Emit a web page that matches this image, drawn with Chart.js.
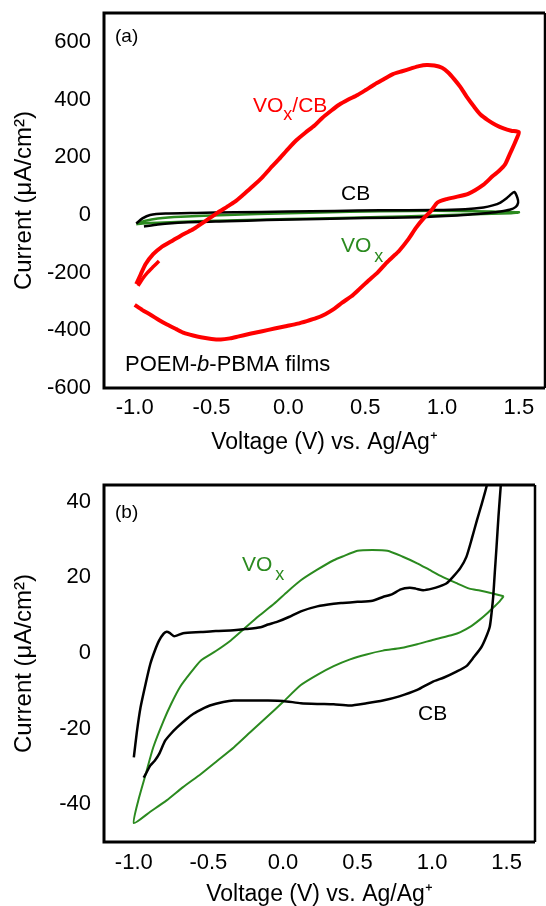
<!DOCTYPE html>
<html>
<head>
<meta charset="utf-8">
<script src="https://cdn.jsdelivr.net/npm/chart.js@4.4.0/dist/chart.umd.min.js"></script>
<style>
body{margin:0;background:#fff;}
canvas{position:absolute;left:0;}
#chartA{top:0;}
#chartB{top:460px;}
</style>
</head>
<body>
<canvas id="chartA" width="546" height="460"></canvas>
<canvas id="chartB" width="546" height="446"></canvas>
<script>
// tick labels
var xTicks = [-1.0, -0.5, 0.0, 0.5, 1.0, 1.5];
var yTicksA = [-600, -400, -200, 0, 200, 400, 600];
var yTicksB = [-40, -20, 0, 20, 40];

// (a) VOx/CB, main loop (lower sweep to the right, then upper sweep back)
var redX = [-1.0,-0.95,-0.90,-0.84,-0.79,-0.73,-0.68,-0.62,-0.57,-0.50,-0.44,-0.38,-0.33,-0.25,-0.17,-0.09,-0.01,0.06,0.12,0.18,0.24,0.30,0.35,0.41,0.46,0.52,0.58,0.64,0.68,0.72,0.78,0.83,0.88,0.93,0.97,1.03,1.08,1.17,1.27,1.33,1.37,1.41,1.44,1.47,1.49,1.50,
  1.45,1.40,1.35,1.30,1.25,1.21,1.16,1.12,1.08,1.04,1.00,0.95,0.90,0.85,0.80,0.74,0.68,0.62,0.56,0.50,0.45,0.39,0.33,0.28,0.22,0.17,0.11,0.05,0.00,-0.06,-0.12,-0.17,-0.23,-0.29,-0.35,-0.40,-0.46,-0.52,-0.57,-0.62,-0.68,-0.75,-0.83,-0.88,-0.93,-0.96,-0.99];
var redY = [-312,-330,-345,-365,-380,-396,-409,-418,-424,-430,-432,-428,-422,-412,-403,-394,-385,-377,-368,-358,-344,-325,-304,-282,-258,-228,-200,-165,-145,-125,-85,-45,-12,15,43,55,61,73,105,135,152,175,210,245,270,287,
  292,300,312,328,348,374,410,443,470,494,510,518,520,516,508,498,488,470,452,432,416,400,382,362,336,310,285,258,230,194,160,130,100,72,45,28,8,-14,-32,-50,-66,-88,-113,-136,-171,-205,-240];
// (a) VOx/CB, short first sweep
var redStartX = [-0.978,-0.95,-0.917,-0.88,-0.842];
var redStartY = [-246,-222,-200,-180,-160];
// (a) CB
var cbAX = [-0.99,-0.95,-0.90,-0.80,-0.60,-0.35,0.00,0.30,0.60,0.95,1.15,1.27,1.33,1.38,1.42,1.45,1.47,1.49,1.495,1.48,1.44,1.38,1.30,1.20,1.10,0.85,0.50,0.20,-0.14,-0.40,-0.68,-0.85,-0.94];
var cbAY = [-30,-12,0,5,7,9,12,14,16,17,20,26,33,43,58,72,80,60,42,28,18,12,7,2,-2,-8,-11,-14,-18,-22,-26,-33,-40];
// (a) VOx
var vxAX = [-0.99,-0.93,-0.85,-0.70,-0.40,0.00,0.40,0.80,1.10,1.30,1.50,1.45,1.20,0.90,0.60,0.20,-0.20,-0.60,-0.85,-0.95,-0.99];
var vxAY = [-32,-20,-12,-6,0,6,11,14,14,12,9,6,2,-3,-7,-12,-17,-22,-27,-30,-32];

// (b) VOx loop
var vxBX = [1.48,1.40,1.32,1.25,1.16,1.07,0.98,0.90,0.80,0.70,0.60,0.50,0.40,0.34,0.23,0.12,0.03,-0.06,-0.16,-0.26,-0.35,-0.45,-0.55,-0.62,-0.69,-0.75,-0.80,-0.87,-0.92,-0.97,-1.00,
  -0.89,-0.78,-0.67,-0.55,-0.44,-0.33,-0.22,-0.11,0.00,0.12,0.23,0.34,0.45,0.56,0.67,0.79,0.90,1.01,1.14,1.19,1.26,1.32,1.37,1.41,1.45,1.48];
var vxBY = [15,15.8,16.5,17,18.5,20.1,22,23.7,25.5,27,27.2,27,25.5,24.5,22,19.2,16.2,13,9.8,6.4,3.3,0.5,-2,-5.3,-9,-13.5,-17.9,-25,-32,-39,-45,
  -42,-39,-35.5,-32,-28.5,-25,-21,-17,-13,-8.5,-5.8,-3.5,-1.7,-0.4,0.6,1.3,2.3,3.5,4.8,5.5,7,8.8,10.5,12,13.5,15];
// (b) CB, lower sweep rising off the top
var cbLowX = [-0.934,-0.92,-0.89,-0.86,-0.83,-0.79,-0.75,-0.71,-0.65,-0.60,-0.54,-0.49,-0.40,-0.33,-0.20,-0.11,0.00,0.12,0.23,0.34,0.45,0.56,0.67,0.78,0.90,1.00,1.08,1.16,1.23,1.28,1.33,1.36,1.387,1.40,1.41,1.42,1.432,1.445,1.46,1.467];
var cbLowY = [-33,-32,-29.8,-28.5,-26.7,-23.2,-21.3,-19.7,-17.6,-16.1,-14.8,-13.9,-13,-12.6,-12.6,-12.6,-12.7,-13.3,-13.5,-13.6,-13.9,-13.3,-12.6,-11.5,-9.8,-7.7,-6.5,-5,-3.5,-1.1,1.5,4,7,11,15,21,28,36,44,47];
// (b) CB, upper sweep coming back from the top
var cbUpX = [1.377,1.365,1.33,1.30,1.265,1.23,1.19,1.14,1.10,1.05,1.00,0.94,0.89,0.85,0.79,0.73,0.67,0.60,0.50,0.40,0.34,0.23,0.12,0.04,-0.04,-0.10,-0.15,-0.25,-0.33,-0.45,-0.55,-0.67,-0.73,-0.76,-0.78,-0.80,-0.83,-0.86,-0.89,-0.92,-0.955,-0.98,-1.00];
var cbUpY = [47,44,39,35,30,25.4,22.5,20.1,18.5,17.6,17,16.6,17,17.2,16.8,15.5,14.8,13.8,13.5,13.2,13,12.3,11,9.5,8.2,7.5,6.8,6.3,6,5.8,5.5,5.2,4.4,5.3,5.6,5.1,3.3,0.5,-3,-8,-14.4,-21,-27.6];

var FONT = "'Liberation Sans', Arial, Helvetica, sans-serif";
var RED = '#ff0000', GREEN = '#2b8a1f', BLACK = '#000000';

function pts(xs, ys) {
  var out = [];
  for (var i = 0; i < xs.length; i++) out.push({x: xs[i], y: ys[i]});
  return out;
}

function line(xs, ys, color, w) {
  return {data: pts(xs, ys), borderColor: color, borderWidth: w, showLine: true,
    pointRadius: 0, tension: 0.2, fill: false};
}

// box round the plot and the text labels inside it
var framePlugin = {
  id: 'frame',
  afterDatasetsDraw: function(chart, args, opts) {
    var a = chart.chartArea, ctx = chart.ctx;
    ctx.save();
    ctx.strokeStyle = '#000';
    ctx.lineWidth = opts.w;
    ctx.beginPath();
    ctx.moveTo(a.right, a.top); ctx.lineTo(a.left, a.top);
    ctx.lineTo(a.left, a.bottom); ctx.lineTo(a.right, a.bottom);
    ctx.stroke();
    ctx.lineWidth = opts.rw;
    ctx.beginPath(); ctx.moveTo(a.right, a.top); ctx.lineTo(a.right, a.bottom); ctx.stroke();
    ctx.textBaseline = 'alphabetic';
    ctx.textAlign = 'left';
    opts.labels.forEach(function(l) {
      var x = l.x;
      ctx.fillStyle = l.color;
      l.parts.forEach(function(p) {
        ctx.font = (p.italic ? 'italic ' : '') + p.size + 'px ' + FONT;
        x += p.gap || 0;
        ctx.fillText(p.t, x, l.y + (p.dy || 0));
        x += ctx.measureText(p.t).width;
      });
    });
    ctx.restore();
  }
};

function makeChart(id, sets, cfg) {
  return new Chart(document.getElementById(id), {
    type: 'scatter',
    data: {datasets: sets},
    plugins: [framePlugin],
    options: {
      responsive: false,
      animation: false,
      layout: {padding: {top: cfg.top, right: cfg.right, bottom: 0, left: 0}},
      plugins: {
        legend: {display: false},
        tooltip: {enabled: false},
        frame: {w: 3, rw: 2.5, labels: cfg.labels}
      },
      scales: {
        x: {
          type: 'linear', min: -1.2, max: cfg.xMax,
          grid: {display: false, drawTicks: false}, border: {display: false},
          afterBuildTicks: function(s) { s.ticks = xTicks.map(function(v) { return {value: v}; }); },
          afterFit: function(s) { s.height = cfg.xH; s.paddingLeft = 0; s.paddingRight = 0; },
          ticks: {autoSkip: false, maxRotation: 0, padding: cfg.xTickPad, color: '#000',
            font: {family: FONT, size: 22},
            callback: function(v) { return v.toFixed(1); }},
          title: {display: true, text: 'Voltage (V) vs. Ag/Ag\u207A', color: '#000',
            font: {family: FONT, size: 23, lineHeight: 1}, padding: {top: 0, bottom: cfg.xTitlePad}}
        },
        y: {
          type: 'linear', min: cfg.yMin, max: cfg.yMax,
          grid: {display: false, drawTicks: false}, border: {display: false},
          afterBuildTicks: function(s) { s.ticks = cfg.yTicks.map(function(v) { return {value: v}; }); },
          afterFit: function(s) { s.width = 104; s.paddingTop = 0; s.paddingBottom = 0; },
          ticks: {autoSkip: false, padding: 13, color: '#000',
            font: {family: FONT, size: 22},
            callback: function(v) { return String(v); }},
          title: {display: true, text: 'Current (\u03BCA/cm\u00B2)', color: '#000',
            font: {family: FONT, size: 24, lineHeight: 1}, padding: {top: 12, bottom: 0}}
        }
      }
    }
  });
}

makeChart('chartA', [
  line(redX, redY, RED, 4),
  line(redStartX, redStartY, RED, 3.5),
  line(cbAX, cbAY, BLACK, 2.5),
  line(vxAX, vxAY, GREEN, 2.5)
], {
  top: 13, right: 1, xMax: 1.67, yMin: -600, yMax: 700, yTicks: yTicksA,
  xH: 72, xTickPad: 7, xTitlePad: 6,
  labels: [
    {x: 115, y: 42, color: BLACK, parts: [{t: '(a)', size: 19}]},
    {x: 253, y: 112, color: RED, parts: [{t: 'VO', size: 21}, {t: 'x', size: 18, dy: 8}, {t: '/CB', size: 21}]},
    {x: 341, y: 200, color: BLACK, parts: [{t: 'CB', size: 21}]},
    {x: 341, y: 252, color: GREEN, parts: [{t: 'VO', size: 21}, {t: 'x', size: 18, dy: 10, gap: 3}]},
    {x: 125, y: 371, color: BLACK, parts: [{t: 'POEM-', size: 22}, {t: 'b', size: 22, italic: true}, {t: '-PBMA films', size: 22}]}
  ]
});

makeChart('chartB', [
  line(cbLowX, cbLowY, BLACK, 2.5),
  line(cbUpX, cbUpY, BLACK, 2.5),
  line(vxBX, vxBY, GREEN, 2)
], {
  top: 25, right: 11, xMax: 1.69, yMin: -50, yMax: 44.4, yTicks: yTicksB,
  xH: 64, xTickPad: 8, xTitlePad: 0,
  labels: [
    {x: 115, y: 58, color: BLACK, parts: [{t: '(b)', size: 19}]},
    {x: 242, y: 111, color: GREEN, parts: [{t: 'VO', size: 21}, {t: 'x', size: 18, dy: 9, gap: 3}]},
    {x: 418, y: 260, color: BLACK, parts: [{t: 'CB', size: 21}]}
  ]
});
</script>
</body>
</html>
